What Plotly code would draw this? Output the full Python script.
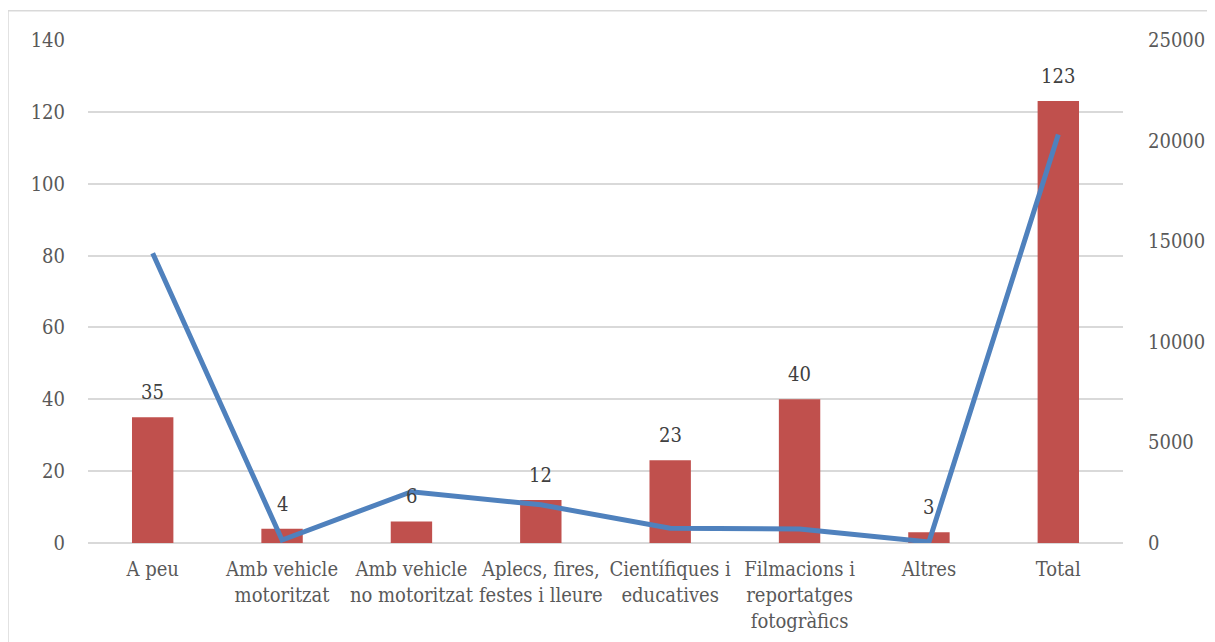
import plotly.graph_objects as go

categories = ["A peu", "Amb vehicle<br>motoritzat", "Amb vehicle<br>no motoritzat",
              "Aplecs, fires,<br>festes i lleure", "Científiques i<br>educatives",
              "Filmacions i<br>reportatges<br>fotogràfics", "Altres", "Total"]
bar_values = [35, 4, 6, 12, 23, 40, 3, 123]
line_values = [14400, 150, 2550, 1900, 730, 700, 50, 20300]
left_ticks = [0, 20, 40, 60, 80, 100, 120, 140]
right_ticks = [0, 5000, 10000, 15000, 20000, 25000]

FONT = "DejaVu Serif Condensed"
TICK_COLOR = "#595959"
GRID = "#D9D9D9"
FS = 20

fig = go.Figure()
fig.add_trace(go.Bar(x=categories, y=bar_values, marker_color="#C0504D",
                     marker_line_width=0, width=0.32, yaxis="y", showlegend=False,
                     hoverinfo="x+y"))
fig.add_trace(go.Scatter(x=categories, y=line_values, mode="lines",
                         line=dict(color="#4F81BD", width=5), yaxis="y2",
                         showlegend=False))

for c, v in zip(categories, bar_values):
    fig.add_annotation(x=c, y=v, xref="x", yref="y", text=str(v), showarrow=False,
                       yanchor="middle", yshift=25,
                       font=dict(family=FONT, size=FS, color="#404040"))

fig.update_layout(
    width=1207, height=634,
    margin=dict(l=80, r=92, t=32, b=99),
    paper_bgcolor="white", plot_bgcolor="white",
    font=dict(family=FONT, size=FS, color=TICK_COLOR),
    bargap=0.68,
    xaxis=dict(showgrid=False, showline=False, ticks="", tickangle=0, automargin=False,
               tickfont=dict(size=FS, color=TICK_COLOR), ticklabelstandoff=12),
    yaxis=dict(range=[0, 140], tickvals=left_ticks, showgrid=True, gridcolor=GRID, gridwidth=1.5,
               zeroline=True, zerolinecolor=GRID, zerolinewidth=1.5, showline=False, ticks="",
               automargin=False, ticklabelstandoff=22, tickfont=dict(size=FS, color=TICK_COLOR)),
    yaxis2=dict(range=[0, 25000], tickvals=right_ticks, overlaying="y", side="right",
                showgrid=False, zeroline=False, showline=False, ticks="", tickformat="d",
                automargin=False, ticklabelstandoff=24, tickfont=dict(size=FS, color=TICK_COLOR)),
    shapes=[dict(type="rect", xref="paper", yref="paper", x0=-0.0773, x1=1.2, y0=-0.5,
                 y1=1.058, line=dict(color="#D9D9D9", width=1.5), fillcolor="rgba(0,0,0,0)",
                 layer="below")],
)

fig.write_html("out.html")
